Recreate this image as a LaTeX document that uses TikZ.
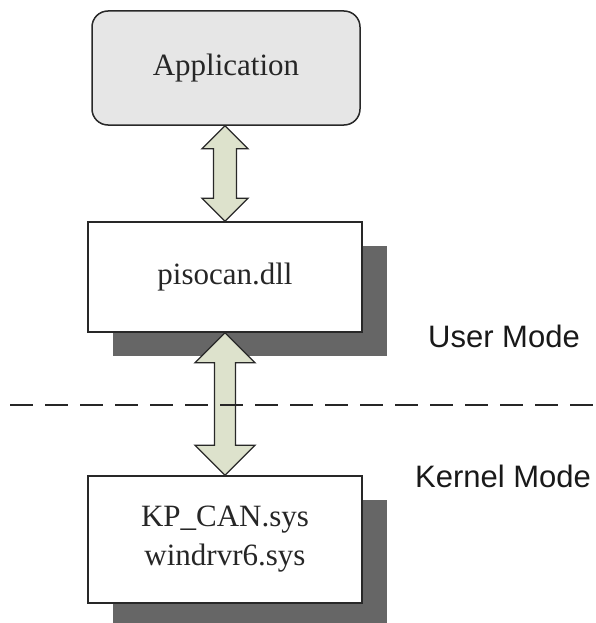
\documentclass[tikz,border=0pt]{standalone}
\usepackage{fontspec}
\setmainfont{Liberation Serif}
\newfontfamily\labelfont{Liberation Sans}
\usetikzlibrary{calc,shadows}
\definecolor{appfill}{RGB}{230,230,230}
\definecolor{shadowgray}{RGB}{102,102,102}
\definecolor{arrowfill}{RGB}{221,226,204}
\definecolor{edge}{RGB}{40,40,40}
\tikzset{
  box/.style={draw=edge, line width=1.5pt, fill=white, minimum width=274pt, inner sep=0pt,
    font=\fontsize{31}{39}\selectfont, text=black!85, align=center,
    drop shadow={shadow xshift=25pt, shadow yshift=-24pt, opacity=1, fill=shadowgray}},
  appbox/.style={draw=edge, line width=1.5pt, fill=appfill, rounded corners=16pt,
    minimum width=268pt, minimum height=114pt, inner sep=0pt,
    font=\fontsize{31}{39}\selectfont, text=black!85},
  bigarrow/.style={draw=edge, line width=1.3pt, fill=arrowfill, line join=miter},
  modelabel/.style={font=\labelfont\fontsize{31}{37}\selectfont, text=black!90, inner sep=0pt},
  divider/.style={draw=black!85, line width=2.8pt, dash pattern=on 23pt off 12pt}
}
\begin{document}
\begin{tikzpicture}[x=1pt,y=-1pt]
\useasboundingbox (0,0) rectangle (596,623);
\node[appbox] (app) at (226,68) {Application};
\node[box, minimum height=110pt] (dll) at (225,277) {pisocan.dll};
\node[box, minimum height=127pt] (kp) at (225,539.5) {KP\_CAN.sys\\windrvr6.sys};
% arrow between Application and pisocan.dll
\coordinate (a1t) at (app.south -| dll.north);
\draw[bigarrow] (a1t) -- ++(23,23) -- ++(-11.5,0) -- ($(dll.north)+(11.5,-23)$) -- ++(11.5,0)
  -- (dll.north) -- ++(-23,-23) -- ++(11.5,0) -- ($(a1t)+(-11.5,23)$) -- ++(-11.5,0) -- cycle;
% arrow between pisocan.dll and KP_CAN.sys
\draw[bigarrow] (dll.south) -- ++(30,30) -- ++(-19.5,0) -- ($(kp.north)+(10.5,-30)$) -- ++(19.5,0)
  -- (kp.north) -- ++(-30,-30) -- ++(19.5,0) -- ($(dll.south)+(-10.5,30)$) -- ++(-19.5,0) -- cycle;
% divider
\coordinate (dl) at (10,405);
\coordinate (dr) at (596,405);
\draw[divider] (dl) -- (dr);
\node[modelabel, anchor=base west] (user) at (428,347) {User Mode};
\node[modelabel, anchor=base west] (kernel) at (415,487) {Kernel Mode};
\end{tikzpicture}
\end{document}
